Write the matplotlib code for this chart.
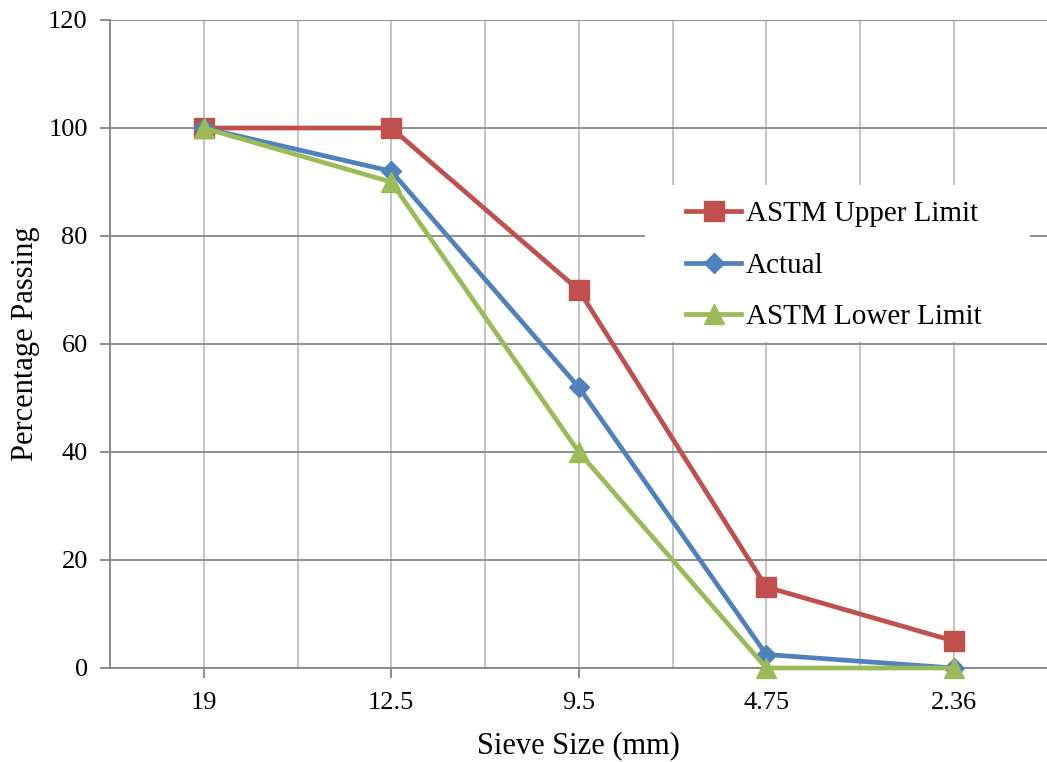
import matplotlib.pyplot as plt
import numpy as np
from matplotlib.patches import Rectangle

# ==== Dados ====
sieve_sizes = ["19", "12.5", "9.5", "4.75", "2.36"]
upper_limit = [100, 100, 70, 15, 5]
actual = [100, 92, 52, 2.5, 0]
lower_limit = [100, 90, 40, 0, 0]

plt.rcParams["font.family"] = ["Liberation Serif", "DejaVu Serif"]

# ==== Gráfico ====
W, H = 1047, 762
fig = plt.figure(figsize=(W / 100, H / 100), dpi=100)
ax = fig.add_axes([110 / W, 1 - 668 / H, 937.5 / W, 648 / H])

x = np.arange(len(sieve_sizes))
ax.plot(x, upper_limit, color="#C0504D", lw=3.4, marker="s", ms=14,
        label="ASTM Upper Limit", zorder=3, clip_on=False)
ax.plot(x, actual, color="#4F81BD", lw=3.4, marker="D", ms=10,
        label="Actual", zorder=4, clip_on=False)
ax.plot(x, lower_limit, color="#9BBB59", lw=3.4, marker="^", ms=15,
        label="ASTM Lower Limit", zorder=5, clip_on=False)

ax.set_xlim(-0.5, len(sieve_sizes) - 0.5)
ax.set_ylim(0, 120)
ax.set_yticks(range(0, 121, 20))
ax.set_xticks(x)
ax.set_xticklabels(sieve_sizes)
ax.set_xticks(np.arange(-0.5, len(sieve_sizes), 1), minor=True)

ax.grid(True, axis="y", color="#868686", lw=1.3, zorder=0)
ax.grid(True, axis="x", which="both", color="#BFBFBF", lw=1.3, zorder=0)
ax.set_axisbelow(True)

for side in ["top", "right"]:
    ax.spines[side].set_visible(False)
for side in ["left", "bottom"]:
    ax.spines[side].set_color("#868686")
    ax.spines[side].set_linewidth(1.3)

ax.tick_params(axis="both", which="major", direction="out", length=7,
               width=1.3, color="#868686", labelsize=19)
ax.tick_params(axis="x", which="minor", length=0)
ax.tick_params(axis="x", pad=10)
ax.tick_params(axis="y", pad=9)

ax.set_xlabel("Sieve Size (mm)", fontsize=22, labelpad=13)
ax.set_ylabel("Percentage Passing", fontsize=22, labelpad=6)

# fundo branco da legenda (sem borda)
fundo = Rectangle((535 / 937.5, (668 - 342) / 648), 385 / 937.5, 157 / 648,
                  transform=ax.transAxes, facecolor="white", edgecolor="none",
                  zorder=2)
ax.add_patch(fundo)

leg = ax.legend(loc="upper left", bbox_to_anchor=(576 / 937.5, (668 - 201) / 648),
                frameon=False, fontsize=21, handlelength=1.9, handletextpad=0.15,
                labelspacing=0.86, borderpad=0, borderaxespad=0)
leg.set_zorder(10)

fig.savefig("out.png", dpi=100)
